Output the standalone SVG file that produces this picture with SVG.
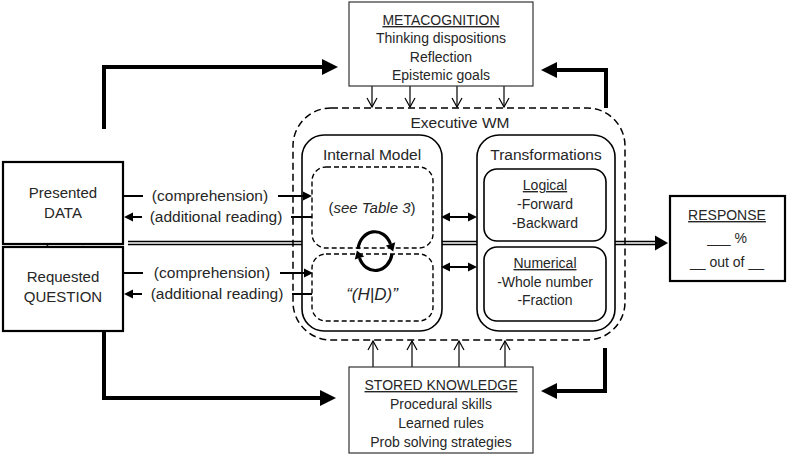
<svg xmlns="http://www.w3.org/2000/svg" width="787" height="458" viewBox="0 0 787 458">
<style>
text{font-family:"Liberation Sans",Arial,sans-serif;fill:#262626;text-anchor:middle}
.t14{font-size:14px}.t15{font-size:15px}.t155{font-size:15.5px}
.u{text-decoration:underline}
.it{font-style:italic}
.thin{fill:#fff;stroke:#333;stroke-width:1.2}
.thick{fill:#fff;stroke:#000;stroke-width:2.2}
.solid{fill:none;stroke:#000;stroke-width:1.6}
.dash{fill:none;stroke:#000;stroke-width:1.4;stroke-dasharray:5 3}
.bdash{fill:none;stroke:#000;stroke-width:1.5;stroke-dasharray:7 4}
.big{fill:none;stroke:#000;stroke-width:4;marker-end:url(#mBig)}
.sm{fill:none;stroke:#000;stroke-width:2}
.sma{fill:none;stroke:#000;stroke-width:2;marker-end:url(#mSm)}
.dbl{fill:none;stroke:#000;stroke-width:2;marker-start:url(#mSm);marker-end:url(#mSm)}
.op{fill:none;stroke:#000;stroke-width:1.2;marker-end:url(#mOpen)}
.par{fill:none;stroke:#000;stroke-width:1.3}
.circ{fill:none;stroke:#000;stroke-width:3.2;marker-end:url(#mCirc)}
</style>
<defs>
<marker id="mBig" markerUnits="userSpaceOnUse" markerWidth="20" markerHeight="20" refX="0" refY="8" orient="auto" overflow="visible"><path d="M0,0 L16,8 L0,16 Z" fill="#000"/></marker>
<marker id="mSm" markerUnits="userSpaceOnUse" markerWidth="12" markerHeight="12" refX="0" refY="4.5" orient="auto-start-reverse" overflow="visible"><path d="M0,0 L9,4.5 L0,9 Z" fill="#000"/></marker>
<marker id="mOpen" markerUnits="userSpaceOnUse" markerWidth="12" markerHeight="12" refX="9" refY="5" orient="auto" overflow="visible"><path d="M0,0 L9,5 L0,10" fill="none" stroke="#000" stroke-width="1.2"/></marker>
<marker id="mCirc" markerUnits="userSpaceOnUse" markerWidth="12" markerHeight="12" refX="0" refY="5" orient="auto" overflow="visible"><path d="M0,0 L8,5 L0,10 Z" fill="#000"/></marker>
<marker id="mResp" markerUnits="userSpaceOnUse" markerWidth="16" markerHeight="16" refX="0" refY="7.5" orient="auto" overflow="visible"><path d="M0,0 L13,7.5 L0,15 Z" fill="#000"/></marker>
</defs>

<g id="connectors">
<!-- thick feedback arrows -->
<path class="big" d="M104,129 V67 H322"/>
<path class="big" d="M606,108 V70 H557"/>
<path class="big" d="M104,331 V398 H320"/>
<path class="big" d="M605,348 V391 H557"/>
<!-- metacognition down arrows -->
<path class="op" d="M372,86 V107"/>
<path class="op" d="M410,86 V107"/>
<path class="op" d="M457,86 V107"/>
<path class="op" d="M504,86 V107"/>
<!-- stored knowledge up arrows -->
<path class="op" d="M373,367 V341"/>
<path class="op" d="M412,367 V341"/>
<path class="op" d="M459,367 V341"/>
<path class="op" d="M505,367 V341"/>
<!-- double line to response -->
<path class="par" d="M128,241.5 H302 M128,244.5 H302 M442,241.5 H477 M442,244.5 H477 M615,241.5 H656 M615,244.5 H656"/>
<path d="M655,235.5 L668,243 L655,250.5 Z" fill="#000"/>
<!-- comprehension / additional reading -->
<path class="sm" d="M123,196 H143"/>
<path class="sma" d="M278,196 H303"/>
<path class="sma" d="M142,217 H133"/>
<path class="sm" d="M291,217 H312"/>
<path class="sm" d="M123,273 H143"/>
<path class="sma" d="M280,273 H304"/>
<path class="sma" d="M142,294 H133"/>
<path class="sm" d="M292,294 H312"/>
<!-- internal model <-> transformations -->
<path class="dbl" d="M450,217 H468"/>
<path class="dbl" d="M450,267 H468"/>
<!-- circular arrows -->
<path class="circ" d="M48,243 A17,20 0 0 1 80.5,238"/>
<path class="circ" d="M82,248 A17,20 0 0 1 49.5,252"/>
<path class="circ" d="M358,249 A17,20 0 0 1 390.5,244"/>
<path class="circ" d="M392,254 A17,20 0 0 1 359.5,258"/>
</g>

<g id="metacognition">
<rect class="thin" x="349" y="2" width="184" height="84"/>
<text class="t14 u" x="441" y="25">METACOGNITION</text>
<text class="t14" x="441" y="43">Thinking dispositions</text>
<text class="t14" x="441" y="62">Reflection</text>
<text class="t14" x="441" y="80">Epistemic goals</text>
</g>

<g id="stored-knowledge">
<rect class="thin" x="349" y="367" width="184" height="86"/>
<text class="t14 u" x="441" y="390">STORED KNOWLEDGE</text>
<text class="t14" x="441" y="409">Procedural skills</text>
<text class="t14" x="441" y="428">Learned rules</text>
<text class="t14" x="441" y="447">Prob solving strategies</text>
</g>

<g id="executive-wm">
<rect class="bdash" x="293" y="108" width="332" height="232" rx="38"/>
<text class="t155" x="460" y="128">Executive WM</text>
</g>

<g id="internal-model">
<rect class="solid" x="302" y="135" width="140" height="196" rx="22"/>
<text class="t155" x="372" y="160">Internal Model</text>
</g>
<g id="table3">
<rect class="dash" x="312" y="167" width="121" height="81" rx="14"/>
<text class="t15" x="372" y="213">(<tspan class="it">see Table 3</tspan>)</text>
</g>
<g id="hd">
<rect class="dash" x="312" y="254" width="121" height="67" rx="14"/>
<text class="it" style="font-size:17px" x="372" y="300">“(H|D)”</text>
</g>

<g id="transformations">
<rect class="solid" x="477" y="135" width="138" height="196" rx="22"/>
<text class="t155" x="546" y="160">Transformations</text>
</g>
<g id="logical">
<rect class="solid" x="484" y="169" width="122" height="72" rx="13"/>
<text class="t14 u" x="545" y="190">Logical</text>
<text class="t14" x="545" y="209">-Forward</text>
<text class="t14" x="545" y="228">-Backward</text>
</g>
<g id="numerical">
<rect class="solid" x="484" y="247" width="122" height="74" rx="13"/>
<text class="t14 u" x="545" y="268">Numerical</text>
<text class="t14" x="545" y="287">-Whole number</text>
<text class="t14" x="545" y="305">-Fraction</text>
</g>

<g id="presented-data">
<rect class="thick" x="3" y="162" width="120" height="82"/>
<text class="t15" x="63" y="198">Presented</text>
<text class="t15" x="63" y="218">DATA</text>
</g>
<g id="requested-question">
<rect class="thick" x="3" y="247" width="120" height="84"/>
<text class="t15" x="63" y="282">Requested</text>
<text class="t15" x="63" y="302">QUESTION</text>
</g>

<g id="labels">
<text class="t155" x="210" y="201">(comprehension)</text>
<text class="t155" x="216" y="222">(additional reading)</text>
<text class="t155" x="212" y="278">(comprehension)</text>
<text class="t155" x="217" y="299">(additional reading)</text>
</g>

<g id="response">
<rect class="thick" x="670" y="196" width="115" height="85"/>
<text class="t14 u" x="727" y="220">RESPONSE</text>
<text class="t14" x="727" y="243">___ %</text>
<text class="t14" x="727" y="267">__ out of __</text>
</g>
</svg>
